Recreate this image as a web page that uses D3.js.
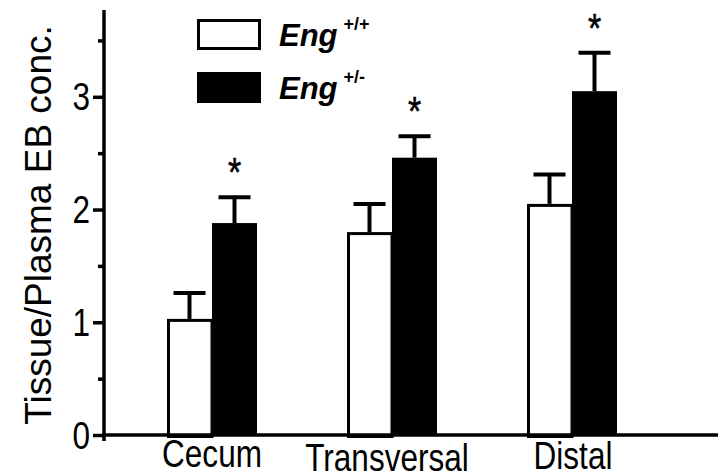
<!DOCTYPE html>
<html>
<head>
<meta charset="utf-8">
<script src="https://cdn.jsdelivr.net/npm/d3@7"></script>
<style>
  html, body { margin: 0; padding: 0; background: #fff; }
  svg { display: block; font-family: 'Liberation Sans', Arial, sans-serif; }
</style>
</head>
<body>
<div id="chart"></div>
<script>
const categories = ['Cecum', 'Transversal', 'Distal'];
const wildType = [1.03, 1.80, 2.05];
const wildTypeSem = [0.23, 0.25, 0.26];
const hetero = [1.88, 2.46, 3.05];
const heteroSem = [0.23, 0.19, 0.34];
const significant = [true, true, true];
const yTicks = [0, 1, 2, 3];
const yMinorTicks = [0.5, 1.5, 2.5, 3.5];
const seriesNames = ['+/+', '+/-'];

const width = 718;
const height = 476;
const squeeze = 0.83; // the original figure's lettering is horizontally condensed

const svg = d3.select('#chart').append('svg')
  .attr('width', width)
  .attr('height', height);

const y = d3.scaleLinear().domain([0, 3.77]).range([435, 10]);
const x = d3.scaleBand().domain(categories).range([77, 707])
  .paddingInner(0.5).paddingOuter(0.5);
const xs = d3.scaleBand().domain([0, 1]).range([0, x.bandwidth()]);

const rows = categories.map((c, i) => ({
  cat: c,
  bars: [
    { s: 0, v: wildType[i], e: wildTypeSem[i] },
    { s: 1, v: hetero[i], e: heteroSem[i] },
  ],
  sig: significant[i],
}));

const groups = svg.selectAll('.grp').data(rows).enter().append('g')
  .attr('class', 'grp')
  .attr('transform', d => `translate(${x(d.cat)},0)`);

// error bars (upper only), drawn under the bars
groups.selectAll('.err').data(d => d.bars).enter().append('g')
  .attr('class', 'err')
  .each(function (d) {
    const g = d3.select(this);
    const cx = xs(d.s) + xs.bandwidth() / 2;
    g.append('line')
      .attr('x1', cx).attr('x2', cx)
      .attr('y1', y(d.v)).attr('y2', y(d.v + d.e))
      .attr('stroke', '#000').attr('stroke-width', 4);
    g.append('line')
      .attr('x1', cx - 16).attr('x2', cx + 16)
      .attr('y1', y(d.v + d.e)).attr('y2', y(d.v + d.e))
      .attr('stroke', '#000').attr('stroke-width', 4);
  });

groups.selectAll('rect').data(d => d.bars).enter().append('rect')
  .attr('x', d => xs(d.s) + (d.s === 0 ? 1.5 : 0))
  .attr('y', d => y(d.v) + (d.s === 0 ? 1.5 : 0))
  .attr('width', d => xs.bandwidth() - (d.s === 0 ? 1.5 : 0))
  .attr('height', d => y(0) - y(d.v))
  .attr('fill', d => (d.s === 0 ? '#fff' : '#000'))
  .attr('stroke', '#000')
  .attr('stroke-width', d => (d.s === 0 ? 3 : 0));

// significance stars
groups.filter(d => d.sig).append('text')
  .attr('transform', d => `translate(${xs(1) + xs.bandwidth() / 2},${y(d.bars[1].v + d.bars[1].e) - 11}) scale(${squeeze},1)`)
  .attr('text-anchor', 'middle')
  .attr('font-size', 41)
  .attr('stroke', '#000')
  .attr('stroke-width', 0.6)
  .text('*');

// axes
const yAxis = d3.axisLeft(y).tickValues(yTicks).tickSize(11).tickPadding(3)
  .tickFormat(d3.format('d'));
const gy = svg.append('g').attr('transform', 'translate(104,0)').call(yAxis);
gy.select('.domain').remove();
gy.selectAll('.tick line').attr('stroke-width', 3.5);
gy.selectAll('.tick text')
  .attr('font-size', 38).attr('font-family', null).attr('fill', '#000')
  .attr('x', null).attr('dy', null)
  .attr('transform', `translate(-14,13) scale(${squeeze},1)`);

const gm = svg.append('g').attr('transform', 'translate(104,0)')
  .call(d3.axisLeft(y).tickValues(yMinorTicks).tickSize(6).tickFormat(''));
gm.select('.domain').remove();
gm.selectAll('.tick line').attr('stroke-width', 3.5);

svg.append('line')
  .attr('x1', 104).attr('x2', 104)
  .attr('y1', y(3.77)).attr('y2', y(0) + 6)
  .attr('stroke', '#000').attr('stroke-width', 3.5);
svg.append('line')
  .attr('x1', 102).attr('x2', width)
  .attr('y1', y(0)).attr('y2', y(0))
  .attr('stroke', '#000').attr('stroke-width', 3.5);

// category labels
const labelShift = [[0, 467], [-5, 471], [1, 469]];
svg.selectAll('.xlab').data(categories).enter().append('text')
  .attr('class', 'xlab')
  .attr('transform', (d, i) => `translate(${x(d) + x.bandwidth() / 2 + labelShift[i][0]},${labelShift[i][1]}) scale(${squeeze},1)`)
  .attr('text-anchor', 'middle')
  .attr('font-size', 38)
  .text(d => d);

// y title
svg.append('text')
  .attr('transform', 'translate(51,225) rotate(-90)')
  .attr('text-anchor', 'middle')
  .attr('font-size', 37)
  .text('Tissue/Plasma EB conc.');

// legend
const legend = svg.selectAll('.leg').data(seriesNames).enter().append('g')
  .attr('class', 'leg')
  .attr('transform', (d, i) => `translate(197,${19 + i * 53})`);
legend.append('rect')
  .attr('x', (d, i) => (i === 0 ? 1.5 : 0))
  .attr('y', (d, i) => (i === 0 ? 1.5 : 0))
  .attr('width', (d, i) => (i === 0 ? 61 : 64))
  .attr('height', (d, i) => (i === 0 ? 28 : 31))
  .attr('fill', (d, i) => (i === 0 ? '#fff' : '#000'))
  .attr('stroke', '#000')
  .attr('stroke-width', (d, i) => (i === 0 ? 3 : 0));
const lt = legend.append('text')
  .attr('x', 82)
  .attr('y', 27);
lt.append('tspan')
  .attr('font-size', 31)
  .attr('font-weight', 'bold')
  .attr('font-style', 'italic')
  .text('Eng');
lt.append('tspan')
  .attr('dx', 6)
  .attr('dy', -16)
  .attr('font-size', 18)
  .attr('font-weight', 'bold')
  .text(d => d);
</script>
</body>
</html>
